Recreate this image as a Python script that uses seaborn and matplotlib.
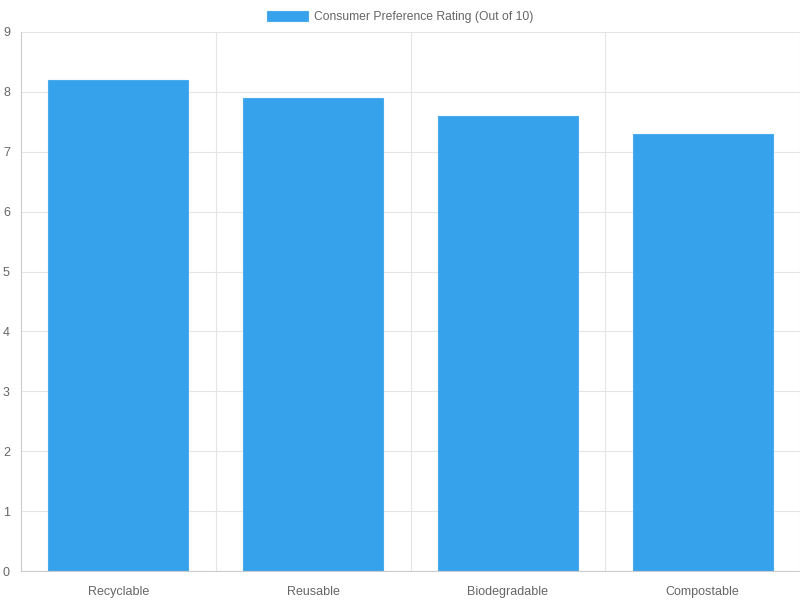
import matplotlib
matplotlib.use("Agg")
import matplotlib.pyplot as plt
import seaborn as sns
import pandas as pd

# Dados do gráfico
categorias = ["Recyclable", "Reusable", "Biodegradable", "Compostable"]
notas = [8.2, 7.9, 7.6, 7.3]
legenda = "Consumer Preference Rating (Out of 10)"

df = pd.DataFrame({"Categoria": categorias, "Nota": notas})

sns.set_style("white")
plt.rcParams["font.family"] = ["Liberation Sans", "DejaVu Sans"]

cor_barra = "#36A2EB"
cor_grade = "#e5e5e5"
cor_texto = "#666666"

fig = plt.figure(figsize=(8, 6), dpi=100)
ax = fig.add_axes([21 / 800, 29 / 600, 779 / 800, 539 / 600])

sns.barplot(data=df, x="Categoria", y="Nota", color=cor_barra, saturation=1,
            width=0.72, ax=ax, label=legenda, edgecolor="#4aacee", linewidth=0.8)

ax.set_xlim(-0.5, len(categorias) - 0.5)
ax.set_ylim(0, 9)
ax.set_yticks(range(0, 10))
ax.set_xlabel("")
ax.set_ylabel("")

# grade vertical nas divisões das categorias
ax.set_xticks([i - 0.5 for i in range(len(categorias) + 1)], minor=True)
ax.grid(True, axis="y", color=cor_grade, linewidth=0.8)
ax.grid(True, axis="x", which="minor", color=cor_grade, linewidth=0.8)
ax.set_axisbelow(True)

ax.tick_params(axis="x", which="major", length=0, pad=10.5, labelsize=9, labelcolor=cor_texto)
ax.tick_params(axis="x", which="minor", length=6, color="#dddddd", width=0.8)
ax.tick_params(axis="y", length=0, pad=8, labelsize=9, labelcolor=cor_texto)

for lado in ["top", "right"]:
    ax.spines[lado].set_visible(False)
ax.spines["left"].set_color("#cccccc")
ax.spines["bottom"].set_color("#cccccc")
ax.spines["left"].set_linewidth(0.8)
ax.spines["bottom"].set_linewidth(0.8)

ax.legend(loc="lower center", bbox_to_anchor=(0.5 - 21 / 779 / 2, 1.0), frameon=False,
          fontsize=8.75, labelcolor=cor_texto, handlelength=3.4, handleheight=0.9,
          handletextpad=0.5, borderaxespad=0.3)

fig.savefig("out.png", dpi=100)
